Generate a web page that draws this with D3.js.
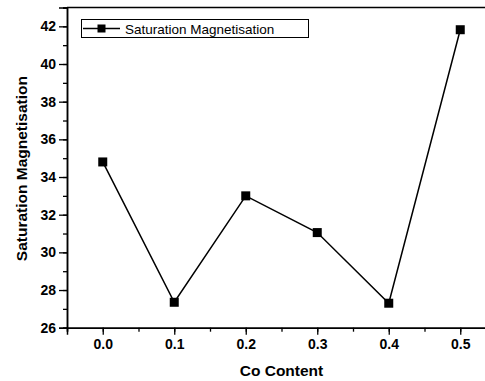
<!DOCTYPE html>
<html><head><meta charset="utf-8">
<script src="https://cdn.jsdelivr.net/npm/d3@7"></script>
<style>body{margin:0;background:#fff}svg{display:block}</style>
</head><body>
<svg id="c" width="485" height="381"></svg>
<script>
const coContent = [0.0, 0.1, 0.2, 0.3, 0.4, 0.5];
const saturation = [34.8, 27.35, 33.0, 31.05, 27.3, 41.82];
const xTicks = [0.0, 0.1, 0.2, 0.3, 0.4, 0.5];
const yTicks = [26, 28, 30, 32, 34, 36, 38, 40, 42];
const seriesName = "Saturation Magnetisation";

const svg = d3.select("#c");
const L = 67, T = 7.5, B = 327.7, R = 496;
const x = d3.scaleLinear().domain([-0.05, 0.55]).range([L, R]);
const y = d3.scaleLinear().domain([26, 43]).range([B, T]);
const font = "Liberation Sans, Arial, sans-serif";

// frame top
svg.append("line").attr("x1", L).attr("x2", 485).attr("y1", T).attr("y2", T)
  .attr("stroke", "#000").attr("stroke-width", 1.3);

// x axis
const xMinor = d3.range(-0.05, 0.56, 0.05).map(v => +v.toFixed(2));
const gx = svg.append("g").attr("transform", `translate(0,${B})`);
gx.call(d3.axisBottom(x).tickValues(xMinor).tickSize(4).tickFormat(""));
const gx2 = svg.append("g").attr("transform", `translate(0,${B})`);
gx2.call(d3.axisBottom(x).tickValues(xTicks).tickSize(7).tickPadding(4).tickFormat(d3.format(".1f")));
[gx, gx2].forEach(g => {
  g.select(".domain").attr("stroke-width", 1.5);
  g.selectAll("line").attr("stroke-width", 1.3);
  g.selectAll("text").attr("font-family", font).attr("font-size", 14).attr("font-weight", "bold").attr("fill", "#000");
});

// y axis
const yMinor = d3.range(26, 43.01, 1);
const gy = svg.append("g").attr("transform", `translate(${L},0)`);
gy.call(d3.axisLeft(y).tickValues(yMinor).tickSize(4).tickFormat(""));
const gy2 = svg.append("g").attr("transform", `translate(${L},0)`);
gy2.call(d3.axisLeft(y).tickValues(yTicks).tickSize(8).tickPadding(3).tickFormat(d3.format("d")));
[gy, gy2].forEach(g => {
  g.select(".domain").attr("stroke-width", 1.5);
  g.selectAll("line").attr("stroke-width", 1.3);
  g.selectAll("text").attr("font-family", font).attr("font-size", 14).attr("font-weight", "bold").attr("fill", "#000");
});

// axis titles
svg.append("text").attr("x", x(0.25)).attr("y", 376).attr("text-anchor", "middle")
  .attr("font-family", font).attr("font-size", 15.5).attr("font-weight", "bold").text("Co Content");
svg.append("text").attr("transform", `translate(27,${(T + B) / 2 + 1}) rotate(-90)`).attr("text-anchor", "middle")
  .attr("font-family", font).attr("font-size", 15.5).attr("font-weight", "bold").text("Saturation Magnetisation");

// series
const pts = coContent.map((c, i) => [c, saturation[i]]);
svg.append("path").datum(pts)
  .attr("d", d3.line().x(d => x(d[0])).y(d => y(d[1])))
  .attr("fill", "none").attr("stroke", "#000").attr("stroke-width", 1.5);
svg.selectAll("rect.m").data(pts).join("rect").attr("class", "m")
  .attr("x", d => x(d[0]) - 4.5).attr("y", d => y(d[1]) - 4.5)
  .attr("width", 9).attr("height", 9).attr("fill", "#000");

// legend
const lg = svg.append("g");
lg.append("rect").attr("x", 81.5).attr("y", 19.5).attr("width", 227).attr("height", 18)
  .attr("fill", "#fff").attr("stroke", "#000").attr("stroke-width", 1);
lg.append("line").attr("x1", 83).attr("x2", 120).attr("y1", 28.5).attr("y2", 28.5)
  .attr("stroke", "#000").attr("stroke-width", 1.5);
lg.append("rect").attr("x", 97.5).attr("y", 24.5).attr("width", 8).attr("height", 8).attr("fill", "#000");
lg.append("text").attr("x", 125).attr("y", 33.5).attr("font-family", font).attr("font-size", 13.5)
  .text(seriesName);
</script>
</body></html>
